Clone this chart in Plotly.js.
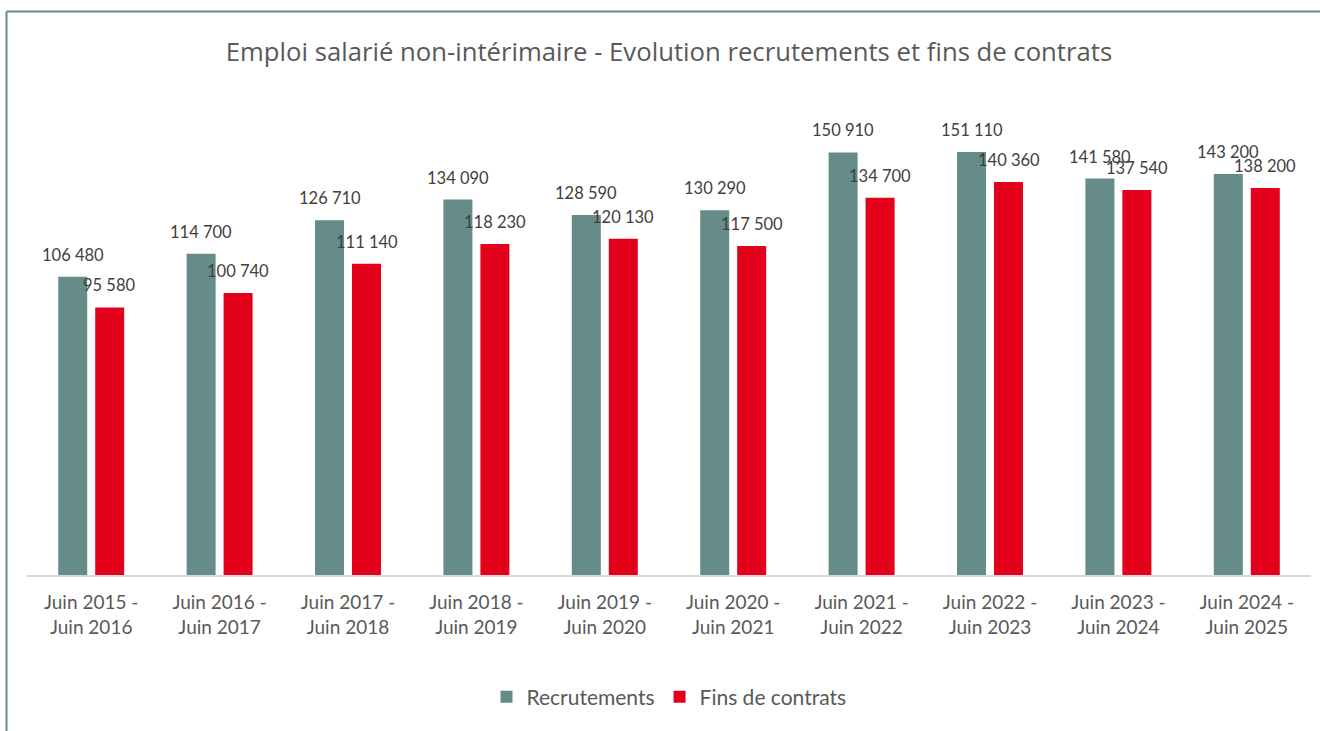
<!DOCTYPE html>
<html>
<head>
<meta charset="utf-8">
<script src="https://cdn.plot.ly/plotly-3.0.1.min.js"></script>
<style>
html,body{margin:0;padding:0;background:#fff;}
#chart{width:1320px;height:731px;}
</style>
</head>
<body>
<div id="chart"></div>
<script>
const categories = [
  "Juin 2015 -<br>Juin 2016", "Juin 2016 -<br>Juin 2017", "Juin 2017 -<br>Juin 2018",
  "Juin 2018 -<br>Juin 2019", "Juin 2019 -<br>Juin 2020", "Juin 2020 -<br>Juin 2021",
  "Juin 2021 -<br>Juin 2022", "Juin 2022 -<br>Juin 2023", "Juin 2023 -<br>Juin 2024",
  "Juin 2024 -<br>Juin 2025"
];
const recrutements = [106480, 114700, 126710, 134090, 128590, 130290, 150910, 151110, 141580, 143200];
const finsContrats = [95580, 100740, 111140, 118230, 120130, 117500, 134700, 140360, 137540, 138200];
const seriesNames = ["Recrutements", "Fins de contrats"];

function fmt(v) {
  return String(v).replace(/\B(?=(\d{3})+(?!\d))/g, " ");
}

const teal = "#668C8A";
const red = "#E2001A";
const font = "Lato, 'Open Sans', sans-serif";
const titleFont = "'Open Sans', Lato, sans-serif";

const traces = [
  {type: "bar", name: seriesNames[0], x: categories, y: recrutements, marker: {color: teal}, hoverinfo: "none"},
  {type: "bar", name: seriesNames[1], x: categories, y: finsContrats, marker: {color: red}, hoverinfo: "none"}
];

const annotations = [];
categories.forEach((c, i) => {
  annotations.push({x: c, y: recrutements[i], xref: "x", yref: "y", text: fmt(recrutements[i]),
    showarrow: false, xshift: -18.5, yshift: 22, yanchor: "middle",
    font: {family: font, size: 16.5, color: "#404040"}});
  annotations.push({x: c, y: finsContrats[i], xref: "x", yref: "y", text: fmt(finsContrats[i]),
    showarrow: false, xshift: 18.5, yshift: 22, yanchor: "middle",
    font: {family: font, size: 16.5, color: "#404040"}});
});

const layout = {
  width: 1320, height: 731,
  margin: {l: 27, r: 9, t: 99, b: 156},
  paper_bgcolor: "#fff", plot_bgcolor: "#fff",
  title: {text: "Emploi salarié non-intérimaire - Evolution recrutements et fins de contrats",
    x: 0.5, xref: "paper", xanchor: "center", y: 1 - 52/731, yref: "container", yanchor: "middle",
    font: {family: titleFont, size: 25.7, color: "#595959"}},
  barmode: "group", bargap: 0.424, bargroupgap: 0.216,
  xaxis: {type: "category", showline: true, linecolor: "#D9D9D9", linewidth: 1.5,
    ticks: "outside", ticklen: 10, tickcolor: "rgba(0,0,0,0)", showgrid: false,
    tickfont: {family: font, size: 19, color: "#595959"}},
  yaxis: {range: [0, 170000], showticklabels: false, showgrid: false, zeroline: false, showline: false},
  showlegend: true,
  legend: {orientation: "h", x: 0.5, xanchor: "center", y: (575-697)/476, yanchor: "middle",
    font: {family: font, size: 21, color: "#595959"}, traceorder: "normal"},
  annotations: annotations,
  shapes: [
    {type: "line", xref: "paper", yref: "paper", x0: (6.5-27)/1284, x1: (1320-27)/1284,
      y0: (575-11.5)/476, y1: (575-11.5)/476, line: {color: teal, width: 2}},
    {type: "line", xref: "paper", yref: "paper", x0: (6.5-27)/1284, x1: (6.5-27)/1284,
      y0: (575-740)/476, y1: (575-11.5)/476, line: {color: teal, width: 2}}
  ]
};

Plotly.newPlot("chart", traces, layout, {displayModeBar: false, staticPlot: true});
</script>
</body>
</html>
